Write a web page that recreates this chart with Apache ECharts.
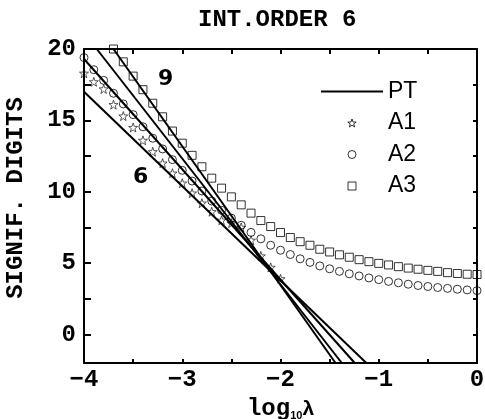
<!DOCTYPE html>
<html><head><meta charset="utf-8">
<script src="https://cdn.jsdelivr.net/npm/echarts@6/dist/echarts.min.js"></script>
<style>html,body{margin:0;padding:0;background:#fff}#c{width:485px;height:419px}</style>
</head><body><div id="c"></div>
<script>
// ---- data ----
const xTicks = [-4, -3.5, -3, -2.5, -2, -1.5, -1, -0.5, 0];
const xLabels = [-4, -3, -2, -1, 0];
const yTicks = [0, 2.5, 5, 7.5, 10, 12.5, 15, 17.5, 20];
const yLabels = [0, 5, 10, 15, 20];

// perturbation theory lines (orders 6..9), endpoints
const pt6 = [[-4.0, 17.0], [-1.126, -2]];
const pt7 = [[-4.0, 19.3], [-1.244, -2]];
const pt8 = [[-3.87, 20], [-1.376, -2]];
const pt9 = [[-3.70, 20], [-1.44, -2]];

const xA1 = [-4.0,-3.9,-3.8,-3.7,-3.6,-3.5,-3.4,-3.3,-3.2,-3.1,-3.0,-2.9,-2.8,-2.7,-2.6,-2.5,-2.4,-2.3,-2.2,-2.1,-2.0];
const yA1 = [18.3,17.7,17.2,16.1,15.3,14.5,13.6,12.8,12.0,11.3,10.6,9.9,9.2,8.6,8.0,7.8,7.5,6.6,5.5,4.7,3.9];

const xA2 = [-4.0,-3.9,-3.8,-3.7,-3.6,-3.5,-3.4,-3.3,-3.2,-3.1,-3.0,-2.9,-2.8,-2.7,-2.6,-2.5,-2.4,-2.3,-2.2,-2.1,-2.0,-1.9,-1.8,-1.7,-1.6,-1.5,-1.4,-1.3,-1.2,-1.1,-1.0,-0.9,-0.8,-0.7,-0.6,-0.5,-0.4,-0.3,-0.2,-0.1,0.0];
const yA2 = [19.4,18.55,17.8,16.9,16.15,15.4,14.55,13.75,13.0,12.25,11.5,10.75,10.05,9.35,8.7,8.15,7.65,7.15,6.7,6.25,5.9,5.6,5.3,5.05,4.8,4.6,4.42,4.25,4.1,3.96,3.84,3.72,3.62,3.52,3.43,3.36,3.29,3.23,3.17,3.12,3.07];

const xA3 = [-3.7,-3.6,-3.5,-3.4,-3.3,-3.2,-3.1,-3.0,-2.9,-2.8,-2.7,-2.6,-2.5,-2.4,-2.3,-2.2,-2.1,-2.0,-1.9,-1.8,-1.7,-1.6,-1.5,-1.4,-1.3,-1.2,-1.1,-1.0,-0.9,-0.8,-0.7,-0.6,-0.5,-0.4,-0.3,-0.2,-0.1,0.0];
const yA3 = [20.0,19.1,18.1,17.15,16.2,15.25,14.25,13.4,12.55,11.75,10.95,10.25,9.64,9.08,8.5,7.98,7.56,7.14,6.79,6.5,6.25,5.97,5.78,5.58,5.41,5.24,5.1,4.98,4.87,4.75,4.65,4.57,4.49,4.42,4.33,4.27,4.22,4.2];

// ---- chart ----
const zip = (xs, ys) => xs.map((x, i) => [x, ys[i]]);
const MONO = '"Liberation Mono", "Courier New", monospace';
const SANS = '"Liberation Sans", Arial, sans-serif';
const fmt = v => (v < 0 ? '\u2212' + Math.abs(v) : String(v));
const star = 'path://M0,-10 L2.35,-3.24 L9.51,-3.09 L3.8,1.24 L5.88,8.09 L0,4 L-5.88,8.09 L-3.8,1.24 L-9.51,-3.09 L-2.35,-3.24 Z';
const square = 'path://M0,0 L10,0 L10,10 L0,10 Z';
const bar = 'path://M0,0 L62,0 L62,2 L0,2 Z';

const axisLine = {show: true, onZero: false, lineStyle: {color: '#000', width: 2}};
const mkX = (pos, showLabel, tickLen) => ({
  type: 'value', position: pos, min: -4, max: 0,
  axisLine, splitLine: {show: false},
  axisTick: {show: true, inside: true, length: tickLen, customValues: xTicks, lineStyle: {color: '#000', width: 2}},
  axisLabel: {show: showLabel, customValues: xLabels, formatter: fmt, margin: 5,
    color: '#000', fontFamily: MONO, fontWeight: 'bold', fontSize: 24}
});
const mkY = (pos, showLabel, tickLen) => ({
  type: 'value', position: pos, min: -2, max: 20,
  axisLine, splitLine: {show: false},
  axisTick: {show: true, inside: true, length: tickLen, customValues: yTicks, lineStyle: {color: '#000', width: 2}},
  axisLabel: {show: showLabel, customValues: yLabels, formatter: fmt, margin: 8,
    color: '#000', fontFamily: MONO, fontWeight: 'bold', fontSize: 24}
});

const xBottom = mkX('bottom', true, 4);
xBottom.name = '{a|log}{s|10}{b|\u03bb}';
xBottom.nameLocation = 'middle';
xBottom.nameGap = 32;
xBottom.nameTextStyle = {
  rich: {
    a: {fontFamily: MONO, fontWeight: 'bold', fontSize: 24, color: '#000'},
    s: {fontFamily: SANS, fontWeight: 'bold', fontSize: 11, color: '#000', padding: [14, 0, 0, 0]},
    b: {fontFamily: SANS, fontWeight: 'bold', fontSize: 21, color: '#000'}
  }
};
const yLeft = mkY('left', true, 7);
yLeft.name = 'SIGNIF. DIGITS';
yLeft.nameLocation = 'middle';
yLeft.nameGap = 56;
yLeft.nameTextStyle = {fontFamily: MONO, fontWeight: 'bold', fontSize: 24, color: '#000', padding: [0, 0, 0, 16]};

const lineSeries = (d) => ({
  name: 'PT', type: 'line', data: d, symbol: 'none', showSymbol: false,
  lineStyle: {color: '#000', width: 2}, itemStyle: {color: '#000'}, z: 2, silent: true
});
const markerStyle = {color: 'transparent', borderColor: '#000', borderWidth: 1};

const option = {
  animation: false,
  backgroundColor: '#fff',
  title: {
    text: 'INT.ORDER 6', left: 198, top: 8, padding: 0,
    textStyle: {fontFamily: MONO, fontWeight: 'bold', fontSize: 24, color: '#000'}
  },
  grid: {left: 84, right: 8, top: 49, bottom: 56, outerBoundsMode: 'none', containLabel: false},
  xAxis: [xBottom, mkX('top', false, 5)],
  yAxis: [yLeft, mkY('right', false, 4)],
  legend: {
    orient: 'vertical', left: 321, top: 80, padding: 0,
    itemWidth: 62, itemHeight: 8, itemGap: 8.5, symbolKeepAspect: true,
    data: [
      {name: 'PT', icon: bar, itemStyle: {color: '#000', borderWidth: 0}},
      {name: 'A1', icon: star, itemStyle: markerStyle},
      {name: 'A2', icon: 'circle', itemStyle: markerStyle},
      {name: 'A3', icon: square, itemStyle: markerStyle}
    ],
    textStyle: {fontFamily: SANS, fontSize: 23, color: '#000', lineHeight: 22, padding: [0, 0, 0, 0]},
    selectedMode: false
  },
  graphic: [
    {type: 'text', left: 158, top: 68, style: {text: '9', fontFamily: '"DejaVu Sans", sans-serif', fontWeight: 'bold', fontSize: 22, fill: '#000'}},
    {type: 'text', left: 133, top: 166, style: {text: '6', fontFamily: '"DejaVu Sans", sans-serif', fontWeight: 'bold', fontSize: 22, fill: '#000'}}
  ],
  series: [
    lineSeries(pt6), lineSeries(pt7), lineSeries(pt8), lineSeries(pt9),
    {name: 'A1', type: 'scatter', data: zip(xA1, yA1), symbol: star, symbolSize: 9, itemStyle: {color: 'transparent', borderColor: '#000', borderWidth: 0.8}, z: 3},
    {name: 'A2', type: 'scatter', data: zip(xA2, yA2), symbol: 'circle', symbolSize: 8, itemStyle: markerStyle, z: 3},
    {name: 'A3', type: 'scatter', data: zip(xA3, yA3), symbol: 'rect', symbolSize: 8, itemStyle: markerStyle, z: 3}
  ]
};
const chart = echarts.init(document.getElementById('c'), null, {renderer: 'canvas'});
chart.setOption(option);
</script>
</body></html>
